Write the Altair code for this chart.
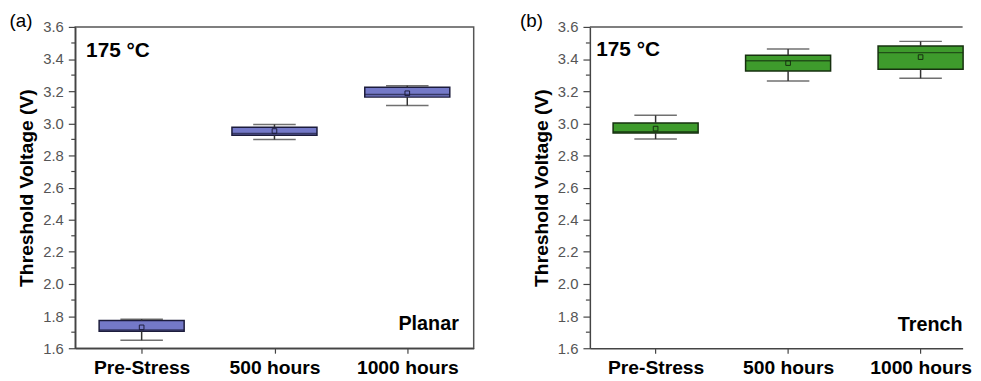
import altair as alt
import pandas as pd

categories = ["Pre-Stress", "500 hours", "1000 hours"]

planar_low = [1.650, 2.899, 3.111]
planar_q1 = [1.706, 2.925, 3.163]
planar_median = [1.714, 2.936, 3.180]
planar_q3 = [1.772, 2.976, 3.224]
planar_high = [1.781, 2.993, 3.234]
planar_mean = [1.730, 2.952, 3.187]

trench_low = [2.902, 3.263, 3.280]
trench_q1 = [2.940, 3.325, 3.336]
trench_median = [2.948, 3.390, 3.440]
trench_q3 = [3.002, 3.423, 3.481]
trench_high = [3.050, 3.462, 3.510]
trench_mean = [2.967, 3.375, 3.412]

major_ticks = [1.6, 1.8, 2.0, 2.2, 2.4, 2.6, 2.8, 3.0, 3.2, 3.4, 3.6]
minor_ticks = [1.7, 1.9, 2.1, 2.3, 2.5, 2.7, 2.9, 3.1, 3.3, 3.5]

panel_tags = ["(a)", "(b)"]
temperature = "175 °C"
devices = ["Planar", "Trench"]

FONT = "Liberation Sans"
yscale = alt.Scale(domain=[1.6, 3.6], nice=False, zero=False)


def make_df(low, q1, med, q3, high, mean):
    return pd.DataFrame({"category": categories, "low": low, "q1": q1,
                         "median": med, "q3": q3, "high": high, "mean": mean})


def panel(df, fill, edge, tag, device, w, h, xpad, xalign, tag_xy, temp_xy, dev_xy,
          framed):
    base = alt.Chart(df)
    x = alt.X("category:N", sort=categories,
              scale=alt.Scale(type="point", padding=xpad, align=xalign),
              axis=alt.Axis(title=None, labelFontSize=19.5, labelFontWeight="bold",
                            labelColor="black", labelPadding=6, tickSize=5,
                            tickColor="#444", tickWidth=1.2, domainColor="#444",
                            domainWidth=1.5, labelAngle=0))
    y_axis = alt.Axis(values=major_ticks, format=".1f",
                      tickSize=7, title="Threshold Voltage (V)", titleFontSize=19.5,
                      titleFontWeight="bold", titleColor="black", labelFontSize=15,
                      labelColor="#555", labelPadding=5, titlePadding=6,
                      domainColor="#444", domainWidth=1.5, tickColor="#444",
                      tickWidth=1.2, labelOverlap=False, labelFlush=False, grid=False)

    def Y(field):
        return alt.Y(field, scale=yscale, axis=y_axis)

    box = base.mark_bar(size=86, fill=fill, stroke=edge, strokeWidth=1.5).encode(
        x=x, y=Y("q1:Q"), y2="q3:Q")
    wl = base.mark_rule(color="#333", strokeWidth=1.5).encode(x=x, y=Y("low:Q"), y2="q1:Q")
    wh = base.mark_rule(color="#333", strokeWidth=1.5).encode(x=x, y=Y("q3:Q"), y2="high:Q")
    cl = base.mark_tick(size=43, thickness=1.5, color="#333").encode(x=x, y=Y("low:Q"))
    ch = base.mark_tick(size=43, thickness=1.5, color="#333").encode(x=x, y=Y("high:Q"))
    med = base.mark_tick(size=86, thickness=1.5, color=edge).encode(x=x, y=Y("median:Q"))
    mn = base.mark_point(shape="square", size=22, filled=False, color=edge,
                         strokeWidth=1, opacity=1).encode(x=x, y=Y("mean:Q"))

    minor = alt.Chart(pd.DataFrame({"v": minor_ticks})).mark_rule(
        color="#444", strokeWidth=1.2).encode(
        y=Y("v:Q"), x=alt.value(-4), x2=alt.value(0))

    tag_t = alt.Chart(pd.DataFrame({"t": [tag]})).mark_text(
        align="left", baseline="top", fontSize=19, color="black").encode(
        text="t:N", x=alt.value(tag_xy[0]), y=alt.value(tag_xy[1]))
    temp_t = alt.Chart(pd.DataFrame({"t": [temperature]})).mark_text(
        align="left", baseline="alphabetic", fontSize=21, fontWeight="bold",
        color="black").encode(text="t:N", x=alt.value(temp_xy[0]), y=alt.value(temp_xy[1]))
    dev_t = alt.Chart(pd.DataFrame({"t": [device]})).mark_text(
        align="right", baseline="alphabetic", fontSize=20, fontWeight="bold",
        color="black").encode(text="t:N", x=alt.value(dev_xy[0]), y=alt.value(dev_xy[1]))

    layers = [box, wl, wh, cl, ch, med, mn, minor, tag_t, temp_t, dev_t]
    props = dict(width=w, height=h)
    if not framed:
        top = alt.Chart(pd.DataFrame({"t": [0]})).mark_rule(
            color="#555", strokeWidth=1.5).encode(
            x=alt.value(0), x2=alt.value(w), y=alt.value(0))
        layers.append(top)
        props["view"] = alt.ViewBackground(stroke="transparent")
    return alt.layer(*layers).properties(**props)


left = panel(make_df(planar_low, planar_q1, planar_median, planar_q3, planar_high, planar_mean),
             "#7479C8", "#1c1c3c", panel_tags[0], devices[0], 403, 325, 0.5, 0.5,
             (-66.5, -14.6), (11, 30), (388, 307), True)
right = panel(make_df(trench_low, trench_q1, trench_median, trench_q3, trench_high, trench_mean),
              "#3E9B2C", "#16300f", panel_tags[1], devices[1], 377, 325, 0.4067, 0.61,
              (-70.7, -14.6), (6.5, 29), (377, 308), False)

chart = alt.hconcat(left, right, spacing=44.5).properties(
    padding={"left": 0, "top": 1, "right": 0, "bottom": 0}
).configure(font=FONT).configure_view(stroke="#555", strokeWidth=1.5)

chart.save("out.html", embed_options={"renderer": "svg", "actions": False})
